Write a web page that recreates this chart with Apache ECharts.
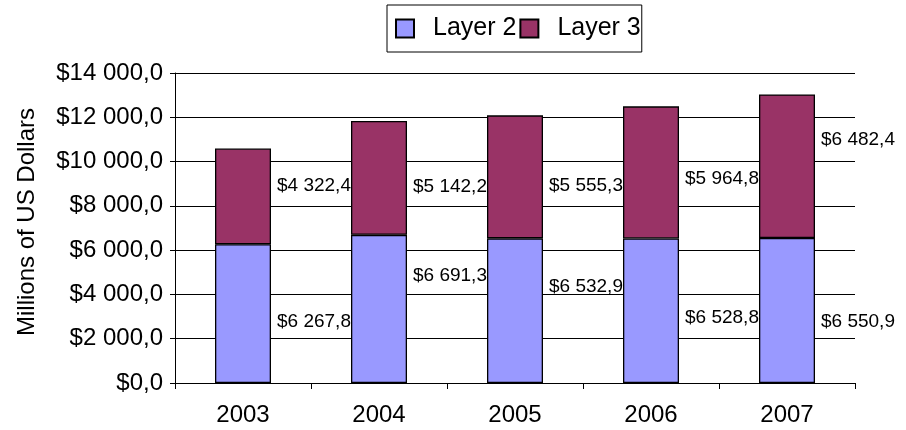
<!DOCTYPE html>
<html>
<head>
<meta charset="utf-8">
<script src="https://cdn.jsdelivr.net/npm/echarts@6/dist/echarts.min.js"></script>
<style>
html,body{margin:0;padding:0;background:#fff;}
#chart{width:906px;height:430px;}
</style>
</head>
<body>
<div id="chart"></div>
<script>
const categories = ['2003', '2004', '2005', '2006', '2007'];
const layer2 = [6267.8, 6691.3, 6532.9, 6528.8, 6550.9];
const layer3 = [4322.4, 5142.2, 5555.3, 5964.8, 6482.4];
const yTicks = [0, 2000, 4000, 6000, 8000, 10000, 12000, 14000];

function fmt(v, dec) {
  v = Math.abs(v);
  let s = v.toFixed(dec);
  let [ip, fp] = s.split('.');
  ip = ip.replace(/\B(?=(\d{3})+(?!\d))/g, ' ');
  return '$' + ip + (fp !== undefined ? ',' + fp : '');
}

const FONT = 'Liberation Sans, Arial, sans-serif';
// label vertical nudges (style only)
const nudge2 = [8, -33, -24, 7, 11];
const nudge3 = [-11, 9, 9, 6, -26];

function items(vals, nudges) {
  return vals.map((v, i) => ({
    value: v,
    label: { offset: [0, nudges[i]] }
  }));
}

const chart = echarts.init(document.getElementById('chart'), null, {renderer: 'canvas'});
chart.setOption({
  animation: false,
  backgroundColor: '#fff',
  textStyle: { fontFamily: FONT },
  grid: { left: 175, right: 51, top: 73, bottom: 47 },
  legend: {
    left: 387, top: 5,
    padding: [11, 1, 11, 8],
    borderColor: '#000', borderWidth: 1,
    itemWidth: 18, itemHeight: 18, itemGap: 3,
    icon: 'rect',
    textStyle: { fontSize: 25, color: '#000', fontFamily: FONT, padding: [0, 0, 0, 14] },
    data: ['Layer 2', 'Layer 3']
  },
  xAxis: {
    type: 'category',
    data: categories,
    axisLine: { lineStyle: { color: '#000', width: 1 } },
    axisTick: { show: true, length: 6, lineStyle: { color: '#000' } },
    axisLabel: { fontSize: 24, color: '#000', margin: 20, fontFamily: FONT }
  },
  yAxis: {
    type: 'value',
    min: yTicks[0], max: yTicks[yTicks.length - 1], interval: 2000,
    name: 'Millions of US Dollars',
    nameLocation: 'middle', nameRotate: 90, nameGap: 136,
    nameTextStyle: { fontSize: 24, color: '#000', fontFamily: FONT, padding: [0, 0, 0, 12] },
    axisLine: { show: true, lineStyle: { color: '#000', width: 1 } },
    axisTick: { show: true, length: 5, lineStyle: { color: '#000' } },
    axisLabel: { fontSize: 24, color: '#000', margin: 12, fontFamily: FONT,
      formatter: v => fmt(v, 1) },
    splitLine: { show: true, lineStyle: { color: '#000', width: 1 } }
  },
  series: [
    {
      name: 'Layer 2', type: 'bar', stack: 'total', barWidth: 56,
      data: items(layer2, nudge2),
      itemStyle: { color: '#9999FF', borderColor: '#000', borderWidth: 1.3 },
      label: { show: true, position: 'right', distance: 6, fontSize: 19, color: '#000',
        fontFamily: FONT, formatter: p => fmt(p.value, 1) }
    },
    {
      name: 'Layer 3', type: 'bar', stack: 'total', barWidth: 56,
      data: items(layer3, nudge3),
      itemStyle: { color: '#993366', borderColor: '#000', borderWidth: 1.3 },
      label: { show: true, position: 'right', distance: 6, fontSize: 19, color: '#000',
        fontFamily: FONT, formatter: p => fmt(p.value, 1) }
    }
  ]
});
</script>
</body>
</html>
